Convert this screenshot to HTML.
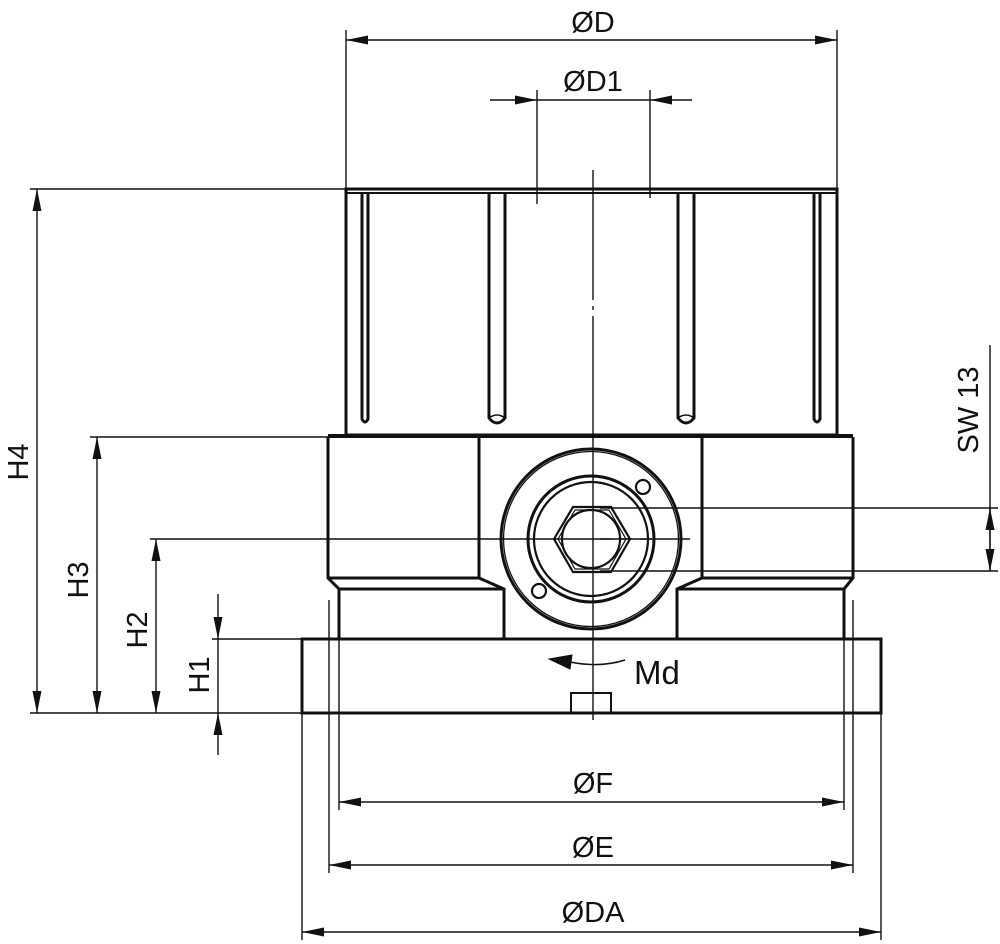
<!DOCTYPE html>
<html><head><meta charset="utf-8"><style>
html,body{margin:0;padding:0;background:#fff;}
svg{display:block}
text{font-family:"Liberation Sans",sans-serif;fill:#111;}
</style></head><body>
<svg width="1000" height="944" viewBox="0 0 1000 944" xmlns="http://www.w3.org/2000/svg">
<defs>
<marker id="a" viewBox="0 0 22 9" refX="22" refY="4.5" markerWidth="22" markerHeight="9" markerUnits="userSpaceOnUse" orient="auto-start-reverse"><path d="M0,0 L22,4.5 L0,9 z" fill="#111"/></marker>
</defs>
<g stroke="#111" fill="none" stroke-width="1.4">
<line x1="346" y1="30" x2="346" y2="189"/>
<line x1="837" y1="30" x2="837" y2="189"/>
<line x1="537" y1="90" x2="537" y2="204"/>
<line x1="650" y1="90" x2="650" y2="198"/>
<line x1="30" y1="189" x2="346" y2="189"/>
<line x1="90" y1="437" x2="328" y2="437"/>
<line x1="150" y1="539" x2="690" y2="539"/>
<line x1="212" y1="639" x2="302" y2="639"/>
<line x1="30" y1="713" x2="302" y2="713"/>
<line x1="600" y1="508" x2="998" y2="508"/>
<line x1="600" y1="571" x2="998" y2="571"/>
<line x1="339" y1="640" x2="339" y2="810"/>
<line x1="844" y1="640" x2="844" y2="810"/>
<line x1="329" y1="600" x2="329" y2="873"/>
<line x1="853" y1="600" x2="853" y2="873"/>
<line x1="302" y1="713" x2="302" y2="940"/>
<line x1="881" y1="713" x2="881" y2="940"/>
<line x1="593" y1="170" x2="593" y2="300"/>
<line x1="593" y1="306" x2="593" y2="310"/>
<line x1="593" y1="316" x2="593" y2="720"/>
<line x1="600" y1="539" x2="612" y2="539"/><line x1="620" y1="539" x2="632" y2="539"/><line x1="640" y1="539" x2="652" y2="539"/>
<line x1="346" y1="40" x2="837" y2="40" marker-start="url(#a)" marker-end="url(#a)"/>
<line x1="490" y1="100" x2="537" y2="100" marker-end="url(#a)"/>
<line x1="692" y1="100" x2="650" y2="100" marker-end="url(#a)"/>
<line x1="537" y1="100" x2="650" y2="100"/>
<line x1="37" y1="189" x2="37" y2="713" marker-start="url(#a)" marker-end="url(#a)"/>
<line x1="97" y1="437" x2="97" y2="713" marker-start="url(#a)" marker-end="url(#a)"/>
<line x1="156" y1="539" x2="156" y2="713" marker-start="url(#a)" marker-end="url(#a)"/>
<line x1="218" y1="594" x2="218" y2="639" marker-end="url(#a)"/>
<line x1="218" y1="755" x2="218" y2="713" marker-end="url(#a)"/>
<line x1="218" y1="639" x2="218" y2="713"/>
<line x1="990" y1="345" x2="990" y2="571"/>
<line x1="990" y1="540" x2="990" y2="508" marker-end="url(#a)"/>
<line x1="990" y1="540" x2="990" y2="571" marker-end="url(#a)"/>
<line x1="339" y1="802" x2="844" y2="802" marker-start="url(#a)" marker-end="url(#a)"/>
<line x1="329" y1="865" x2="853" y2="865" marker-start="url(#a)" marker-end="url(#a)"/>
<line x1="302" y1="932" x2="881" y2="932" marker-start="url(#a)" marker-end="url(#a)"/>
</g>
<g stroke="#111" fill="none" stroke-width="3">
<rect x="346" y="189" width="491" height="246"/>
<line x1="346" y1="193" x2="837" y2="193" stroke-width="2"/>
<path d="M362,193 V419 Q365,425 368,419 V193"/>
<path d="M814,193 V419 Q817,425 820,419 V193"/>
<path d="M489,193 V418 Q497,428 505,418 V193"/>
<path d="M678,193 V418 Q686,428 694,418 V193"/>
<path d="M489,418 Q497,412 505,418" stroke-width="1.5"/>
<path d="M678,418 Q686,412 694,418" stroke-width="1.5"/>
<line x1="328" y1="436" x2="853" y2="436" stroke-width="4"/>
<path d="M328,437 V578 L339,589 V639"/>
<path d="M853,437 V578 L844,589 V639"/>
<path d="M328,578 H479 L504,589 V639"/>
<path d="M853,578 H702 L677,589 V639"/>
<line x1="339" y1="589" x2="504" y2="589"/>
<line x1="844" y1="589" x2="677" y2="589"/>
<line x1="479" y1="437" x2="479" y2="578"/>
<line x1="702" y1="437" x2="702" y2="578"/>
<rect x="302" y="639" width="579" height="74"/>
<rect x="571" y="693" width="40" height="20" stroke-width="2"/>
<circle cx="591" cy="539" r="90"/>
<circle cx="591" cy="539" r="87.5" stroke-width="1.3"/>
<circle cx="591" cy="539" r="63"/>
<circle cx="591" cy="539" r="57" stroke-width="2.2"/>
<circle cx="643" cy="487" r="7" stroke-width="2.2"/>
<circle cx="539" cy="591" r="7" stroke-width="2.2"/>
<path d="M554,539 L573,507 L611,507 L630,539 L611,572 L573,572 Z" stroke-width="2.2"/>
<path d="M558,539 L575,510 L609,510 L626,539 L609,569 L575,569 Z" stroke-width="1.2"/>
<circle cx="591" cy="539" r="29" stroke-width="2.2"/>
<path d="M625,660 Q600,668 570,662" stroke-width="1.5"/>
<path d="M549,659 L572,655 L570,669 Z" fill="#111" stroke-width="1"/>
</g>
<g font-size="29">
<text x="593" y="32" text-anchor="middle">ØD</text>
<text x="593" y="91" text-anchor="middle">ØD1</text>
<text x="593" y="793" text-anchor="middle">ØF</text>
<text x="593" y="857" text-anchor="middle">ØE</text>
<text x="593" y="922" text-anchor="middle">ØDA</text>
<text x="634" y="684" font-size="33">Md</text>
<text transform="translate(28,462) rotate(-90)" text-anchor="middle">H4</text>
<text transform="translate(88,580) rotate(-90)" text-anchor="middle">H3</text>
<text transform="translate(147,630) rotate(-90)" text-anchor="middle">H2</text>
<text transform="translate(209,675) rotate(-90)" text-anchor="middle">H1</text>
<text transform="translate(978,410) rotate(-90)" text-anchor="middle">SW 13</text>
</g>
</svg>
</body></html>
